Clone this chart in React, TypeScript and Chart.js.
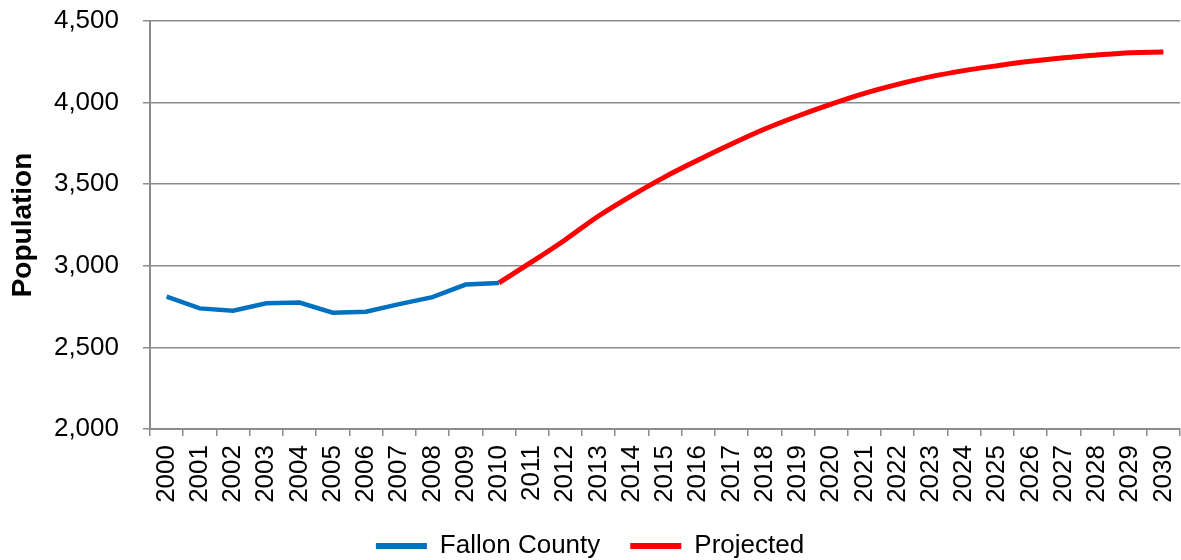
import React, { useEffect, useRef } from "react";
import { Chart, registerables } from "chart.js";

Chart.register(...registerables);

const years: string[] = [
  "2000", "2001", "2002", "2003", "2004", "2005", "2006", "2007", "2008", "2009", "2010",
  "2011", "2012", "2013", "2014", "2015", "2016", "2017", "2018", "2019", "2020",
  "2021", "2022", "2023", "2024", "2025", "2026", "2027", "2028", "2029", "2030",
];

const fallonCounty: (number | null)[] = [
  2811, 2739, 2725, 2770, 2775, 2713, 2719, 2765, 2808, 2885, 2895,
  null, null, null, null, null, null, null, null, null, null,
  null, null, null, null, null, null, null, null, null, null,
];

const projected: (number | null)[] = [
  null, null, null, null, null, null, null, null, null, null, 2895,
  3025, 3160, 3305, 3430, 3545, 3648, 3746, 3838, 3918, 3991,
  4057, 4112, 4159, 4196, 4226, 4253, 4275, 4292, 4306, 4310,
];

const yTicks: number[] = [2000, 2500, 3000, 3500, 4000, 4500];

const FONT = "'Liberation Sans', Arial, sans-serif";
const GRID = "#8c8c8c";

export default function App() {
  const ref = useRef<HTMLCanvasElement | null>(null);

  useEffect(() => {
    if (!ref.current) return;
    const chart = new Chart(ref.current, {
      type: "line",
      data: {
        labels: years,
        datasets: [
          {
            label: "Fallon County",
            data: fallonCounty,
            borderColor: "#0070C0",
            backgroundColor: "#0070C0",
            borderWidth: 4.5,
            pointRadius: 0,
            tension: 0,
            spanGaps: false,
          },
          {
            label: "Projected",
            data: projected,
            borderColor: "#FF0000",
            backgroundColor: "#FF0000",
            borderWidth: 5,
            pointRadius: 0,
            cubicInterpolationMode: "monotone",
            spanGaps: false,
          },
        ],
      },
      options: {
        responsive: false,
        animation: false,
        devicePixelRatio: 1,
        layout: { padding: { top: 21, right: 1, left: 0, bottom: 0 } },
        plugins: {
          tooltip: { enabled: false },
          legend: {
            position: "bottom",
            labels: {
              boxWidth: 51,
              boxHeight: 6,
              padding: 30,
              color: "#000",
              font: { family: FONT, size: 26 },
              generateLabels: (c: any) =>
                Chart.defaults.plugins.legend.labels
                  .generateLabels(c)
                  .map((l: any) => ({ ...l, lineWidth: 0 })),
            },
          },
        },
        scales: {
          x: {
            type: "category",
            offset: true,
            grid: {
              offset: true,
              drawOnChartArea: false,
              drawTicks: true,
              tickLength: 7,
              color: GRID,
              lineWidth: 1.5,
            },
            border: { color: GRID, width: 2 },
            ticks: {
              autoSkip: false,
              maxRotation: 90,
              minRotation: 90,
              padding: 9,
              color: "#000",
              font: { family: FONT, size: 26 },
            },
            afterFit: (s: any) => {
              s.height = 74;
              s.paddingLeft = 0;
              s.paddingRight = 0;
            },
          },
          y: {
            min: 2000,
            max: 4500,
            afterBuildTicks: (s: any) => {
              s.ticks = yTicks.map((v) => ({ value: v }));
            },
            grid: {
              color: GRID,
              lineWidth: 1.5,
              tickLength: 7,
            },
            border: { color: GRID, width: 2 },
            ticks: {
              padding: 24,
              color: "#000",
              font: { family: FONT, size: 26 },
              callback: (v: any) => Number(v).toLocaleString("en-US"),
            },
            title: {
              display: true,
              text: "Population",
              color: "#000",
              font: { family: FONT, size: 28, weight: "bold" },
              padding: { top: 6, bottom: 0 },
            },
            afterFit: (s: any) => {
              s.width = 150;
              s.paddingTop = 0;
              s.paddingBottom = 0;
            },
          },
        },
      },
    });
    return () => chart.destroy();
  }, []);

  return (
    <div style={{ position: "absolute", left: 0, top: 0, width: 1181, height: 560, overflow: "hidden" }}>
      <canvas ref={ref} width={1181} height={569} style={{ width: 1181, height: 569, display: "block" }} />
    </div>
  );
}
